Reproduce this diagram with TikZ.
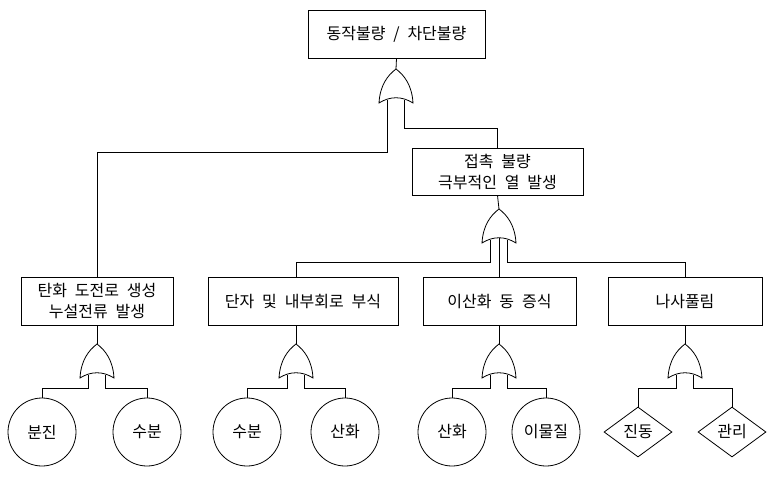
\documentclass[tikz,border=0pt]{standalone}
\usepackage{fontspec}
\setmainfont{Noto Sans CJK KR}[WordSpace=2.2]
\usetikzlibrary{shapes.geometric}

\begin{document}
\begin{tikzpicture}[x=1pt,y=-1pt,line width=0.8pt,
  caja/.style={draw,minimum height=48pt,inner sep=0pt,align=center,font=\fontsize{16}{21}\selectfont},
  evento/.style={circle,draw,minimum size=68pt,inner sep=0pt,font=\fontsize{16}{21}\selectfont},
  rombo/.style={diamond,draw,aspect=1.36,minimum width=68pt,minimum height=50pt,inner sep=0pt,font=\fontsize{16}{21}\selectfont}]
 \useasboundingbox (0,0) rectangle (777,477);
 % compuerta OR: nombre, x, y de la base
 \def\orgate#1#2#3{%
  \draw[fill=white] (#2-17,#3) .. controls (#2-16,#3-18) and (#2-8,#3-28) .. (#2,#3-34)
   .. controls (#2+8,#3-28) and (#2+16,#3-18) .. (#2+17,#3)
   .. controls (#2+6,#3-7) and (#2-6,#3-7) .. cycle;
  \coordinate (#1) at (#2,#3-34);
 }
 \def\entradas#1#2#3{%
  \coordinate (#1-l) at (#2-8.5,#3-3.5);
  \coordinate (#1-m) at (#2,#3-5);
  \coordinate (#1-r) at (#2+8.5,#3-3.5);
 }
 % alturas de los buses
 \coordinate (y1) at (0,152);
 \coordinate (y2) at (0,128);
 \coordinate (y3) at (0,262);
 \coordinate (y4) at (0,388);
 % eventos
 \node[caja,minimum width=177pt] (top) at (396.5,34) {동작불량 / 차단불량};
 \node[caja,minimum width=171pt,minimum height=47pt] (contacto) at (497.5,171.5) {접촉 불량\\극부적인 열 발생};
 \node[caja,minimum width=152pt] (b1) at (97,301.5) {탄화 도전로 생성\\누설전류 발생};
 \node[caja,minimum width=190pt] (b2) at (303,301.5) {단자 및 내부회로 부식};
 \node[caja,minimum width=153pt] (b3) at (499.5,301.5) {이산화 동 증식};
 \node[caja,minimum width=154pt] (b4) at (685,301.5) {나사풀림};
 \node[evento] (c1) at (42,432) {분진};
 \node[evento] (c2) at (147,432) {수분};
 \node[evento] (c3) at (247,432) {수분};
 \node[evento] (c4) at (345,432) {산화};
 \node[evento] (c5) at (452,432) {산화};
 \node[evento] (c6) at (546,432) {이물질};
 \node[rombo] (d1) at (638,432) {진동};
 \node[rombo] (d2) at (732,432) {관리};
 % puntos de entrada
 \entradas{g0}{396}{103}
 \entradas{ga}{499}{243}
 \entradas{g1}{97}{378}
 \entradas{g2}{296}{378}
 \entradas{g3}{499}{378}
 \entradas{g4}{685}{378}
 % conexiones
 \draw (top.south) -- (396,69);
 \draw (g0-l) -- (g0-l |- y1) -| (b1.north);
 \draw (g0-r) -- (g0-r |- y2) -| (contacto.north);
 \draw (contacto.south) -- (499,209);
 \draw (ga-l) -- (ga-l |- y3) -| (b2.north -| g2-m);
 \draw (ga-m) -- (ga-m |- b3.north);
 \draw (ga-r) -- (ga-r |- y3) -| (b4.north);
 \draw (b1.south) -- (97,344);
 \draw (b2.south -| g2-m) -- (296,344);
 \draw (b3.south -| g3-m) -- (499,344);
 \draw (b4.south) -- (685,344);
 \draw (g1-l) -- (g1-l |- y4) -| (c1.north);
 \draw (g1-r) -- (g1-r |- y4) -| (c2.north);
 \draw (g2-l) -- (g2-l |- y4) -| (c3.north);
 \draw (g2-r) -- (g2-r |- y4) -| (c4.north);
 \draw (g3-l) -- (g3-l |- y4) -| (c5.north);
 \draw (g3-r) -- (g3-r |- y4) -| (c6.north);
 \draw (g4-l) -- (g4-l |- y4) -| (d1.north);
 \draw (g4-r) -- (g4-r |- y4) -| (d2.north);
 % compuertas
 \orgate{o0}{396}{103}
 \orgate{oa}{499}{243}
 \orgate{o1}{97}{378}
 \orgate{o2}{296}{378}
 \orgate{o3}{499}{378}
 \orgate{o4}{685}{378}
\end{tikzpicture}
\end{document}
